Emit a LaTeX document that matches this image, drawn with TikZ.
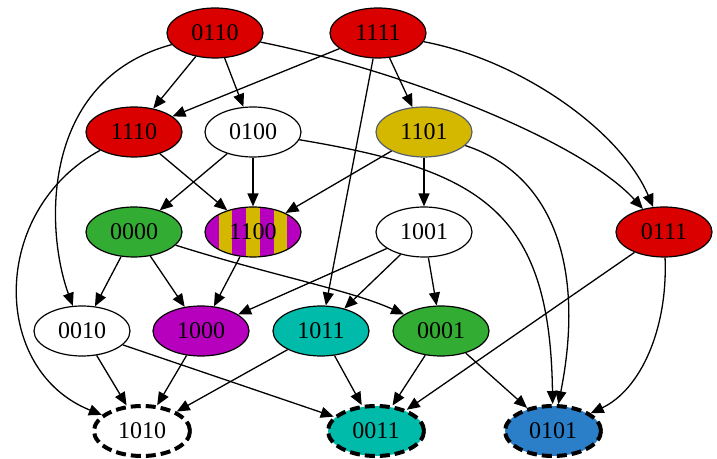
\documentclass[tikz,border=0pt]{standalone}
\usepackage{fontspec}
\setmainfont{Liberation Serif}
\usepackage{tikz}
\usetikzlibrary{calc,arrows.meta}
\usetikzlibrary{shapes.geometric}

\definecolor{cRed}{RGB}{218,0,0}
\definecolor{cGreen}{RGB}{51,172,51}
\definecolor{cTeal}{RGB}{0,187,170}
\definecolor{cMagenta}{RGB}{182,0,190}
\definecolor{cYellow}{RGB}{212,184,0}
\definecolor{cBlue}{RGB}{43,127,200}
\definecolor{cSlate}{RGB}{85,95,105}

\begin{document}
\begin{tikzpicture}[x=0.5pt, y=-0.5pt,
  state/.style={ellipse, draw=black, line width=0.6pt, minimum width=48pt,
    minimum height=25pt, inner sep=0pt, font=\fontsize{12}{14}\selectfont},
  final/.style={state, line width=2pt, dash pattern=on 5pt off 2.5pt},
  conn/.style={line width=0.65pt, -{Triangle[length=6.5pt,width=5.5pt]}},
  stripes/.style={fill=cYellow, path picture={
    \foreach \k [evaluate=\k as \ka using \k/7, evaluate=\k as \kb using (\k+1)/7] in {0,2,4,6}
      \fill[cMagenta] ($(path picture bounding box.south west)!\ka!(path picture bounding box.south east)$)
        rectangle ($(path picture bounding box.north west)!\kb!(path picture bounding box.north east)$);
  }}]
\useasboundingbox (0,0) rectangle (717,459);

%% nodes, row by row
\node[state, fill=cRed] (n0110) at (215,33) {0110};
\node[state, fill=cRed] (n1111) at (378,33) {1111};
\node[state, fill=cRed] (n1110) at (134,132) {1110};
\node[state] (n0100) at (253,132) {0100};
\node[state, fill=cYellow, draw=cSlate] (n1101) at (424,132) {1101};
\node[state, fill=cGreen] (n0000) at (134,232) {0000};
\node[state, stripes] (n1100) at (253,232) {1100};
\node[state] (n1001) at (424,232) {1001};
\node[state, fill=cRed] (n0111) at (664,232) {0111};
\node[state] (n0010) at (82,331) {0010};
\node[state, fill=cMagenta] (n1000) at (201,331) {1000};
\node[state, fill=cTeal] (n1011) at (321,331) {1011};
\node[state, fill=cGreen] (n0001) at (441,331) {0001};
\node[final] (n1010) at (142,431) {1010};
\node[final, fill=cTeal] (n0011) at (376,431) {0011};
\node[final, fill=cBlue] (n0101) at (553,431) {0101};

%% straight edges
\draw[conn] (n0110) -- (n1110);
\draw[conn] (n0110) -- (n0100);
\draw[conn] (n1111) -- (n1110);
\draw[conn] (n1111) -- (n1101);
\draw[conn] (n1111) -- (n1011);
\draw[conn] (n1110) -- (n1100);
\draw[conn] (n0100) -- (n0000);
\draw[conn] (n0100) -- (n1100);
\draw[conn] (n1101) -- (n1100);
\draw[conn] (n1101) -- (n1001);
\draw[conn] (n0000) -- (n0010);
\draw[conn] (n0000) -- (n1000);
\draw[conn] (n1100) -- (n1000);
\draw[conn] (n1001) -- (n1000);
\draw[conn] (n1001) -- (n1011);
\draw[conn] (n1001) -- (n0001);
\draw[conn] (n0111) -- (n0011);
\draw[conn] (n0010) -- (n1010);
\draw[conn] (n0010) -- (n0011);
\draw[conn] (n1000) -- (n1010);
\draw[conn] (n1011) -- (n1010);
\draw[conn] (n1011) -- (n0011);
\draw[conn] (n0001) -- (n0011);
\draw[conn] (n0001) -- (n0101);

%% curved edges
\draw[conn] (n0110) .. controls (40,80) and (45,230) .. (n0010);
\draw[conn] (n0110) .. controls (400,70) and (580,140) .. (n0111);
\draw[conn] (n1111) .. controls (520,60) and (620,130) .. (n0111);
\draw[conn] (n1110) .. controls (-10,210) and (-10,370) .. (n1010);
\draw[conn] (n0100) .. controls (480,170) and (550,210) .. (n0101);
\draw[conn] (n1101) .. controls (555,175) and (585,270) .. (n0101);
\draw[conn] (n0111) .. controls (668,330) and (640,390) .. (n0101);
\draw[conn] (n0000) .. controls (270,275) and (350,290) .. (n0001);
\end{tikzpicture}
\end{document}
